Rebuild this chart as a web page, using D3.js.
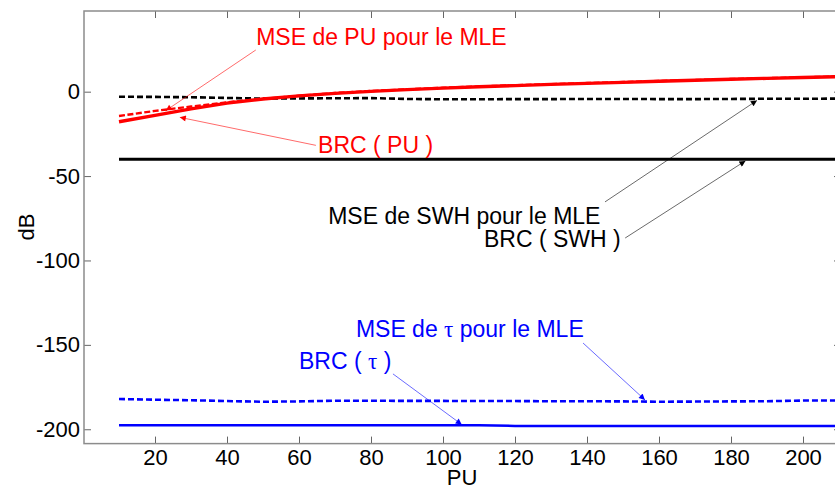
<!DOCTYPE html>
<html>
<head>
<meta charset="utf-8">
<script src="https://cdn.jsdelivr.net/npm/d3@7"></script>
<style>
  body { margin: 0; background: #fff; }
  text { font-family: "Liberation Sans", Arial, sans-serif; }
</style>
</head>
<body>
<div id="chart"></div>
<script>
// PU values (x axis)
const pu = [10, 20, 30, 40, 50, 60, 70, 80, 90, 100, 110, 120, 130, 140, 150, 160, 170, 180, 190, 200, 210];

// series, dB
const msePU   = [-14.4, -11.4, -8.8, -6.3, -4.2, -2.4, -0.8, 0.4, 1.4, 2.3, 3.1, 3.8, 4.5, 5.1, 5.7, 6.3, 6.9, 7.5, 8.0, 8.5, 9.0];
const brcPU   = [-17.8, -14.0, -10.2, -6.8, -4.3, -2.5, -1.0, 0.2, 1.2, 2.1, 2.9, 3.6, 4.3, 4.9, 5.5, 6.2, 6.8, 7.4, 7.9, 8.4, 8.9];
const mseSWH  = [-3.0, -3.1, -3.3, -3.7, -4.1, -4.0, -3.9, -3.8, -4.3, -4.5, -4.5, -4.4, -4.4, -4.3, -4.3, -4.4, -4.4, -4.3, -4.2, -4.2, -4.1];
const brcSWH  = [-40, -40, -40, -40, -40, -40, -40, -40, -40, -40, -40, -40, -40, -40, -40, -40, -40, -40, -40, -40, -40];
const mseTau  = [-182.1, -182.5, -182.8, -183.3, -183.7, -183.5, -183.1, -183.1, -183.2, -183.2, -183.3, -183.3, -183.4, -183.4, -183.5, -183.7, -183.6, -183.5, -183.4, -183.0, -183.0];
const brcTau  = [-197.7, -197.7, -197.7, -197.7, -197.7, -197.7, -197.7, -197.7, -197.7, -197.7, -197.7, -198.0, -198.0, -198.0, -198.0, -198.0, -198.0, -198.0, -198.0, -198.0, -198.0];

const xTicks = [20, 40, 60, 80, 100, 120, 140, 160, 180, 200];
const yTicks = [0, -50, -100, -150, -200];

// annotations: text position and arrow (tail -> head) in data units
const notes = [
    { label: "MSE de PU pour le MLE", color: "#ff0000", tx: 48.1, ty: 27.7, from: [48, 24.7], to: [23, -11.2] },
    { label: "BRC ( PU )", color: "#ff0000", tx: 65.3, ty: -36.3, from: [64.7, -31.8], to: [26.9, -15.2] },
    { label: "MSE de SWH pour le MLE", color: "#000000", tx: 68.1, ty: -78.4, from: [145, -65.3], to: [187.2, -5.2] },
    { label: "BRC ( SWH )", color: "#000000", tx: 111.4, ty: -92, from: [150.6, -86.7], to: [184, -41] },
    { label: "MSE de |τ| pour le MLE", color: "#0000ff", tx: 75.8, ty: -145.3, from: [138.9, -148.9], to: [156.1, -182.6] },
    { label: "BRC ( |τ| )", color: "#0000ff", tx: 60, ty: -164.3, from: [86.1, -167.2], to: [105.2, -197.2] }
];

const width = 835, height = 490;
const m = { left: 84, right: 841, top: 11, bottom: 443.6 };

const svg = d3.select("#chart").append("svg")
    .attr("width", width)
    .attr("height", height);

const x = d3.scaleLinear().domain([0, 210]).range([83, 839]);
const y = d3.scaleLinear().domain([-208.5, 47.8]).range([m.bottom, m.top]);

// clip to axes box
svg.append("clipPath").attr("id", "clip")
    .append("rect")
    .attr("x", m.left).attr("y", m.top)
    .attr("width", m.right - m.left).attr("height", m.bottom - m.top);

const plot = svg.append("g").attr("clip-path", "url(#clip)");

const line = d3.line()
    .x((d, i) => x(pu[i]))
    .y(d => y(d));

const series = [
    { values: brcSWH, color: "#000", width: 3, dash: null },
    { values: mseSWH, color: "#000", width: 2.6, dash: "6,3" },
    { values: brcPU, color: "#ff0000", width: 3.4, dash: null },
    { values: msePU, color: "#ff0000", width: 2.4, dash: "6,2.5" },
    { values: brcTau, color: "#0000ff", width: 2.5, dash: null },
    { values: mseTau, color: "#0000ff", width: 2.6, dash: "6,3" }
];

plot.selectAll(".series")
    .data(series)
    .enter()
    .append("path")
    .attr("class", "series")
    .attr("d", d => line(d.values))
    .attr("fill", "none")
    .attr("stroke", d => d.color)
    .attr("stroke-width", d => d.width)
    .attr("stroke-dasharray", d => d.dash);

// axes, MATLAB style: gray box, ticks pointing in
const axisColor = "#8c8c8c";
const tickLen = 7;
const plain = d => String(d);   // hyphen minus, like MATLAB

const xBottom = svg.append("g")
    .attr("transform", `translate(0, ${m.bottom})`)
    .call(d3.axisBottom(x).tickValues(xTicks).tickFormat(plain).tickSizeInner(-tickLen).tickSizeOuter(0).tickPadding(6));
const xTop = svg.append("g")
    .attr("transform", `translate(0, ${m.top})`)
    .call(d3.axisTop(x).tickValues(xTicks).tickSizeInner(-tickLen).tickSizeOuter(0).tickFormat(""));
const yLeft = svg.append("g")
    .attr("transform", `translate(${m.left}, 0)`)
    .call(d3.axisLeft(y).tickValues(yTicks).tickFormat(plain).tickSizeInner(-tickLen).tickSizeOuter(0).tickPadding(4));
const yRight = svg.append("g")
    .attr("transform", `translate(${m.right}, 0)`)
    .call(d3.axisRight(y).tickValues(yTicks).tickSizeInner(-tickLen).tickSizeOuter(0).tickFormat(""));

[xBottom, xTop, yLeft, yRight].forEach(g => {
    g.select(".domain").remove();
    g.selectAll(".tick line").attr("stroke", "#666").attr("stroke-width", 1);
    g.selectAll(".tick text")
        .attr("fill", "#000")
        .attr("font-size", "22px")
        .attr("font-family", "'Liberation Sans', Arial, sans-serif");
});

// box
svg.append("rect")
    .attr("x", m.left).attr("y", m.top)
    .attr("width", m.right - m.left).attr("height", m.bottom - m.top)
    .attr("fill", "none")
    .attr("stroke", axisColor)
    .attr("stroke-width", 1.5);

// axis labels
svg.append("text")
    .attr("x", 462)
    .attr("y", 485)
    .attr("text-anchor", "middle")
    .attr("font-size", "22px")
    .text("PU");

svg.append("text")
    .attr("transform", "translate(34, 227) rotate(-90)")
    .attr("text-anchor", "middle")
    .attr("font-size", "22px")
    .text("dB");

// arrowhead markers
const defs = svg.append("defs");
["#ff0000", "#000000", "#0000ff"].forEach(c => {
    defs.append("marker")
        .attr("id", "arrow" + c.slice(1))
        .attr("viewBox", "0 0 10 10")
        .attr("refX", 10).attr("refY", 5)
        .attr("markerWidth", 9).attr("markerHeight", 6)
        .attr("markerUnits", "userSpaceOnUse")
        .attr("orient", "auto")
        .append("path")
        .attr("d", "M0,0 L10,5 L0,10 Z")
        .attr("fill", c);
});

// annotations
const ann = svg.append("g");
notes.forEach(n => {
    ann.append("line")
        .attr("x1", x(n.from[0])).attr("y1", y(n.from[1]))
        .attr("x2", x(n.to[0])).attr("y2", y(n.to[1]))
        .attr("stroke", n.color)
        .attr("stroke-opacity", 0.65)
        .attr("stroke-width", 0.9)
        .attr("marker-end", `url(#arrow${n.color.slice(1)})`);

    const t = ann.append("text")
        .attr("x", x(n.tx))
        .attr("y", y(n.ty))
        .attr("fill", n.color)
        .attr("font-size", "23px");
    // segments between | are greek (symbol font)
    n.label.split("|").forEach((part, i) => {
        t.append("tspan")
            .attr("font-family", i % 2 ? "'Liberation Serif', serif" : null)
            .text(part);
    });
});
</script>
</body>
</html>
